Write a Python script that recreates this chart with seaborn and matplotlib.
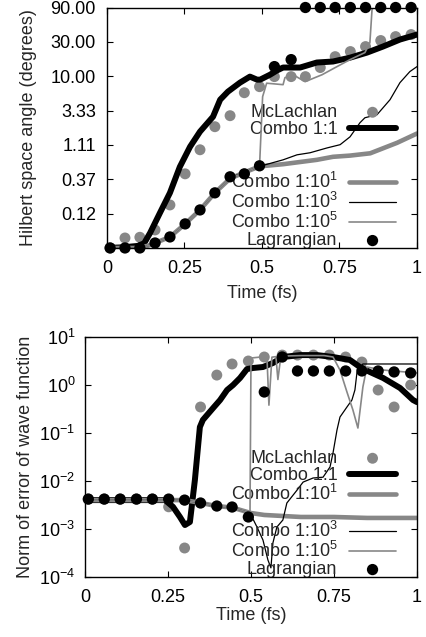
import matplotlib
matplotlib.use("Agg")
import matplotlib.pyplot as plt
from matplotlib.lines import Line2D
from matplotlib.ticker import FixedLocator, NullLocator, LogLocator, LogFormatterSciNotation
import seaborn as sns

# ---------------- data: top panel (Hilbert space angle, degrees) ----------------
t_pts = [0.01, 0.058, 0.106, 0.155, 0.203, 0.252, 0.300, 0.348, 0.397, 0.443, 0.492,
         0.540, 0.594, 0.640, 0.688, 0.736, 0.785, 0.834, 0.883, 0.931, 0.981]

top_mclachlan = [0.0412, 0.0567, 0.058, 0.0733, 0.163, 0.441, 0.952, 1.99, 2.83, 5.9, 7.16,
                 9.87, 9.87, 9.87, 13.2, 18.7, 22.0, 25.8, 31.3, 35.5, 37.9]
top_lagrangian = [0.0412, 0.0412, 0.0412, 0.0483, 0.0586, 0.0889, 0.139, 0.240, 0.401, 0.441, 0.570,
                  13.6, 17.0, 90, 90, 90, 90, 90, 90, 90, 90]

top_c11_t = [0.0, 0.05, 0.10, 0.12, 0.139, 0.171, 0.203, 0.235, 0.268, 0.300, 0.342, 0.365,
             0.390, 0.429, 0.461, 0.484, 0.494, 0.526, 0.548, 0.568, 0.623, 0.677, 0.729,
             0.784, 0.839, 0.890, 0.945, 1.0]
top_c11_v = [0.0412, 0.0420, 0.044, 0.048, 0.0666, 0.127, 0.240, 0.552, 1.05, 1.7, 2.74, 4.72,
             6.1, 8.14, 9.87, 8.96, 8.96, 10.5, 12.0, 13.2, 13.2, 15.5, 16.0,
             18.1, 21.3, 25.8, 32.3, 37.9]

top_c101_t = [0.0, 0.10, 0.13, 0.155, 0.203, 0.252, 0.300, 0.348, 0.397, 0.443, 0.492,
              0.568, 0.677, 0.729, 0.784, 0.849, 0.936, 1.0]
top_c101_v = [0.0412, 0.0412, 0.044, 0.0483, 0.0586, 0.0889, 0.139, 0.240, 0.38, 0.46, 0.56,
              0.60, 0.69, 0.76, 0.79, 0.85, 1.19, 1.6]

top_c103_t = [0.0, 0.10, 0.13, 0.155, 0.203, 0.252, 0.300, 0.348, 0.397, 0.443, 0.492,
              0.568, 0.613, 0.655, 0.71, 0.752, 0.784, 0.816, 0.832, 0.871, 0.913, 0.945,
              0.977, 1.0]
top_c103_v = [0.0412, 0.0412, 0.044, 0.0483, 0.0586, 0.0889, 0.139, 0.240, 0.38, 0.46, 0.56,
              0.69, 0.81, 0.865, 1.01, 1.12, 1.44, 2.26, 2.65, 2.92, 4.72, 8.14,
              11.6, 13.6]

top_c105_t = [0.0, 0.10, 0.13, 0.155, 0.203, 0.252, 0.300, 0.348, 0.397, 0.443, 0.492,
              0.502, 0.515, 0.568, 0.574, 0.60, 0.639, 0.694, 0.742, 0.784, 0.832, 0.848,
              0.855, 0.86, 1.0]
top_c105_v = [0.0412, 0.0412, 0.044, 0.0483, 0.0586, 0.0889, 0.139, 0.240, 0.38, 0.46, 0.56,
              5.2, 8.0, 7.63, 9.55, 10.5, 8.4, 10.5, 13.6, 17.0, 21.3, 29.3,
              85, 90, 90]

# ---------------- data: bottom panel (norm of error) ----------------
bot_mclachlan = [0.0042, 0.0042, 0.0042, 0.0042, 0.0042, 0.0029, 0.000402, 0.348, 1.61, 2.74, 3.16,
                 3.83, 4.2, 4.2, 4.2, 4.2, 3.83, 3.01, 0.787, 0.348, 1.0]
bot_lagrangian = [0.0042, 0.0042, 0.0042, 0.0042, 0.0042, 0.0042, 0.0040, 0.00348, 0.00301, 0.00287, 0.00178,
                  0.715, 3.83, 1.96, 1.96, 1.96, 1.96, 1.96, 1.96, 1.87, 1.78]

bot_c11_t = [0.0, 0.241, 0.265, 0.286, 0.301, 0.316, 0.331, 0.346, 0.355, 0.386, 0.407, 0.428,
             0.446, 0.467, 0.488, 0.506, 0.536, 0.566, 0.596, 0.648, 0.699, 0.747, 0.798,
             0.828, 0.858, 0.898, 0.949, 0.988, 1.0]
bot_c11_v = [0.0040, 0.0040, 0.0029, 0.00178, 0.00121, 0.0014, 0.0105, 0.133, 0.187, 0.332, 0.487, 0.787,
             1.0, 1.40, 2.15, 2.26, 2.37, 2.87, 3.83, 4.2, 4.2, 3.83, 3.32,
             2.37, 1.87, 1.40, 0.866, 0.487, 0.44]

bot_c101_t = [0.0, 0.30, 0.348, 0.397, 0.443, 0.50, 0.54, 0.65, 0.75, 0.85, 1.0]
bot_c101_v = [0.0040, 0.0040, 0.0035, 0.0030, 0.0028, 0.00215, 0.00196, 0.00178, 0.00178, 0.0017, 0.0017]

bot_c103_t = [0.0, 0.30, 0.348, 0.397, 0.443, 0.497, 0.518, 0.536, 0.551, 0.56, 0.566, 0.578,
              0.596, 0.608, 0.639, 0.657, 0.687, 0.717, 0.738, 0.747, 0.759, 0.768, 0.789,
              0.804, 0.813, 0.819, 0.828, 0.837, 1.0]
bot_c103_v = [0.0040, 0.0040, 0.0035, 0.0030, 0.0028, 0.00215, 0.0011, 0.00059, 0.000226, 0.000155, 0.000513, 0.0011,
              0.00154, 0.00348, 0.0065, 0.0095, 0.01155, 0.012, 0.0196, 0.0383, 0.1155, 0.215, 0.348,
              0.487, 0.787, 1.78, 2.37, 2.74, 2.74]

bot_c105_t = [0.0, 0.30, 0.348, 0.397, 0.443, 0.497, 0.500, 0.53, 0.548, 0.554, 0.563, 0.575,
              0.581, 0.59, 0.65, 0.72, 0.747, 0.768, 0.789, 0.807, 0.822, 0.837, 0.849,
              0.898, 1.0]
bot_c105_v = [0.0040, 0.0040, 0.0035, 0.0030, 0.0028, 0.00215, 3.65, 3.83, 3.9, 0.38, 3.8, 3.9,
              1.3, 4.0, 4.1, 4.1, 3.83, 2.05, 0.715, 0.301, 0.127, 0.908, 2.37,
              2.05, 1.78]

x_ticks = [0, 0.25, 0.5, 0.75, 1]
x_tick_labels = ["0", "0.25", "0.5", "0.75", "1"]
top_y_ticks = [90, 30, 10, 10 / 3, 10 / 9, 10 / 27, 10 / 81]
top_y_tick_labels = ["90.00", "30.00", "10.00", "3.33", "1.11", "0.37", "0.12"]

labels = ["McLachlan", "Combo 1:1", "Combo 1:10$^1$", "Combo 1:10$^3$", "Combo 1:10$^5$", "Lagrangian"]

# ---------------- style ----------------
sns.set_style("ticks")
plt.rcParams["font.family"] = ["Liberation Sans", "DejaVu Sans"]
plt.rcParams["mathtext.fontset"] = "custom"
plt.rcParams["mathtext.rm"] = "Liberation Sans"
plt.rcParams["mathtext.it"] = "Liberation Sans"
plt.rcParams["mathtext.bf"] = "Liberation Sans:bold"
plt.rcParams["mathtext.default"] = "regular"
plt.rcParams["axes.unicode_minus"] = False

FS = 13
GRAY = "#878787"
BLACK = "#000000"

fig = plt.figure(figsize=(4.27, 6.37), dpi=100)
ax1 = fig.add_axes([107 / 427, 1 - 248 / 637, 310 / 427, 240.5 / 637])
ax2 = fig.add_axes([85 / 427, 1 - 577 / 637, 332 / 427, 240 / 637])


def draw(ax, t_m, mcl, lag, c11, c101, c103, c105):
    sns.scatterplot(x=t_m, y=mcl, ax=ax, color=GRAY, s=62, linewidth=0, edgecolor="none",
                    label=labels[0], legend=False, clip_on=False, zorder=2)
    sns.lineplot(x=c11[0], y=c11[1], ax=ax, color=BLACK, linewidth=4.3, label=labels[1],
                 estimator=None, sort=False, legend=False, zorder=3)
    sns.lineplot(x=c101[0], y=c101[1], ax=ax, color=GRAY, linewidth=3.3, label=labels[2],
                 estimator=None, sort=False, legend=False, zorder=4)
    sns.lineplot(x=c103[0], y=c103[1], ax=ax, color=BLACK, linewidth=0.9, label=labels[3],
                 estimator=None, sort=False, legend=False, zorder=5)
    sns.lineplot(x=c105[0], y=c105[1], ax=ax, color=GRAY, linewidth=1.2, label=labels[4],
                 estimator=None, sort=False, legend=False, zorder=6)
    sns.scatterplot(x=t_m, y=lag, ax=ax, color=BLACK, s=66, linewidth=0, edgecolor="none",
                    label=labels[5], legend=False, clip_on=False, zorder=7)
    ax.set_yscale("log")
    ax.set_xlim(0, 1)
    ax.xaxis.set_major_locator(FixedLocator(x_ticks))
    ax.set_xticklabels(x_tick_labels)
    for s in ax.spines.values():
        s.set_linewidth(1.0)
        s.set_color("black")
        s.set_zorder(10)
    ax.tick_params(which="major", direction="in", top=True, right=True, length=4, width=0.8,
                   labelsize=FS, colors="black")
    ax.tick_params(which="minor", direction="in", top=True, right=True, length=2, width=0.6)


draw(ax1, t_pts, top_mclachlan, top_lagrangian, (top_c11_t, top_c11_v), (top_c101_t, top_c101_v),
     (top_c103_t, top_c103_v), (top_c105_t, top_c105_v))
draw(ax2, t_pts, bot_mclachlan, bot_lagrangian, (bot_c11_t, bot_c11_v), (bot_c101_t, bot_c101_v),
     (bot_c103_t, bot_c103_v), (bot_c105_t, bot_c105_v))

# top axis: log scale with factor-3 ticks
ax1.set_ylim(90 / 3 ** 7, 90)
ax1.yaxis.set_major_locator(FixedLocator(top_y_ticks))
ax1.yaxis.set_minor_locator(NullLocator())
ax1.set_yticklabels(top_y_tick_labels)
ax1.tick_params(axis="y", pad=8)
ax1.tick_params(axis="x", pad=8.5)
ax1.set_xlabel("Time (fs)", fontsize=FS, labelpad=6)
ax1.set_ylabel("Hilbert space angle (degrees)", fontsize=FS, labelpad=10)

ax2.set_ylim(1e-4, 10)
ax2.yaxis.set_major_locator(LogLocator(base=10, numticks=10))
ax2.yaxis.set_major_formatter(LogFormatterSciNotation())
ax2.yaxis.set_minor_locator(NullLocator())
ax2.tick_params(axis="y", pad=7)
ax2.tick_params(axis="x", pad=9)
ax2.set_xlabel("Time (fs)", fontsize=FS, labelpad=0)
ax2.set_ylabel("Norm of error of wave function", fontsize=FS, labelpad=4)


def blank():
    return Line2D([], [], linestyle="none", marker="none")


def make_legend(ax, order, anchor):
    h, l = ax.get_legend_handles_labels()
    d = dict(zip(l, h))
    hs, ls = [], []
    for name in order:
        if name is None:
            hs.append(blank())
            ls.append(" ")
        else:
            hs.append(d[name])
            ls.append(name)
    ax.legend(hs, ls, loc="upper right", bbox_to_anchor=anchor, frameon=False, markerfirst=False,
              fontsize=FS, handlelength=2.6, handletextpad=0.65, labelspacing=0.0,
              borderpad=0, borderaxespad=0, scatterpoints=1)


make_legend(ax1, [labels[0], labels[1], None, None, labels[2], labels[3], labels[4], labels[5]],
            ((396 - 107) / 310, (248 - 104) / 240.5))
make_legend(ax2, [labels[0], labels[1], labels[2], None, labels[3], labels[4], labels[5]],
            ((396 - 85) / 332, (577 - 450) / 240))

fig.savefig("out.png", dpi=100)
